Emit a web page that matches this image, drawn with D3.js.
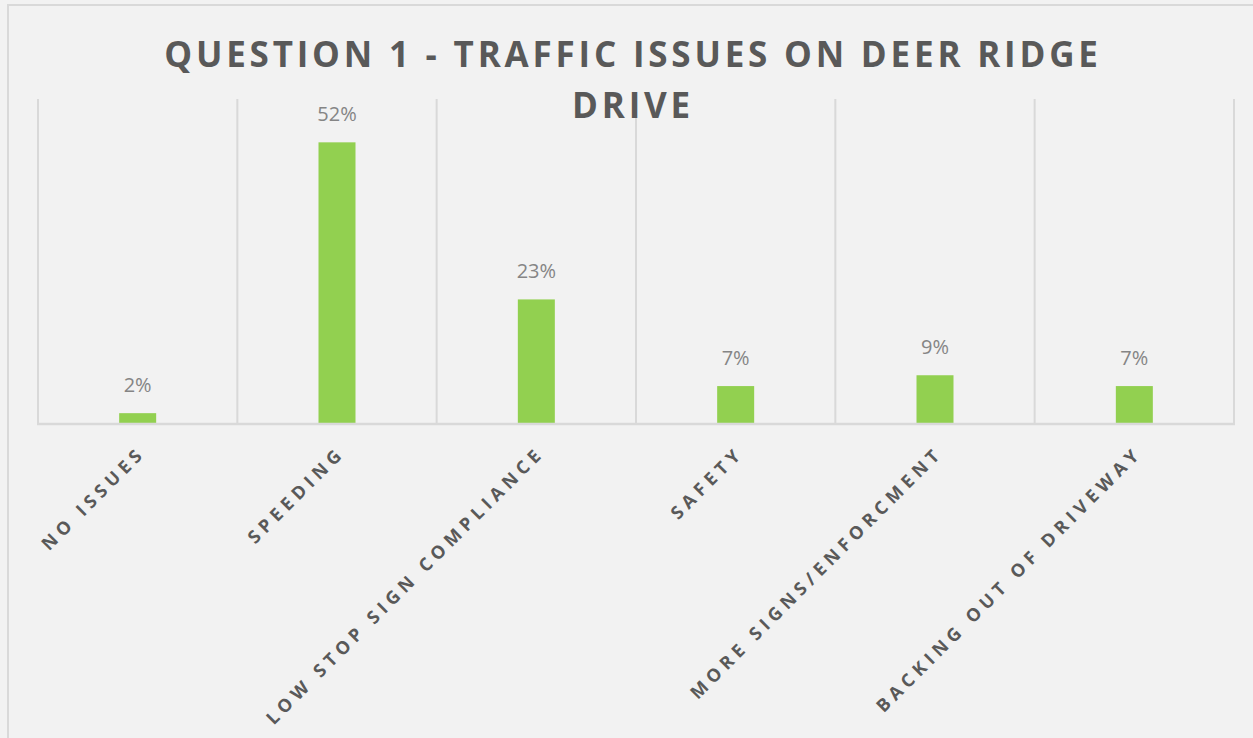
<!DOCTYPE html>
<html>
<head>
<meta charset="utf-8">
<script src="https://cdn.jsdelivr.net/npm/d3@7"></script>
<style>
  body { margin: 0; background: #f2f2f2; }
  svg { display: block; }
</style>
</head>
<body>
<div id="chart"></div>
<script>
/*------------------------------------------*/
/*            Data                          */
/*------------------------------------------*/

var categories = ["NO ISSUES", "SPEEDING", "LOW STOP SIGN COMPLIANCE", "SAFETY",
                  "MORE SIGNS/ENFORCMENT", "BACKING OUT OF DRIVEWAY"];
var values = [2, 52, 23, 7, 9, 7];
var valueLabels = ["2%", "52%", "23%", "7%", "9%", "7%"];
var titleLines = ["QUESTION 1 - TRAFFIC ISSUES ON DEER RIDGE", "DRIVE"];

/*------------------------------------------*/
/*            Constants                     */
/*------------------------------------------*/

var width = 1253,
    height = 738;

var plot = { left: 38, right: 1234, top: 99, bottom: 424 };

var barColour = "#92d050",
    gridColour = "#d9d9d9",
    textColour = "#595959";

var svg = d3.select("#chart").append("svg")
    .attr("width", width)
    .attr("height", height);

svg.append("rect")
    .attr("width", width)
    .attr("height", height)
    .attr("fill", "#f2f2f2");

// outer frame (top & left edge of the chart area)
svg.append("line")
    .attr("x1", 7).attr("x2", width).attr("y1", 5).attr("y2", 5)
    .attr("stroke", gridColour).attr("stroke-width", 2);
svg.append("line")
    .attr("x1", 8).attr("x2", 8).attr("y1", 5).attr("y2", height)
    .attr("stroke", gridColour).attr("stroke-width", 2);

/*------------------------------------------*/
/*            Scales                        */
/*------------------------------------------*/

var x = d3.scaleBand()
    .domain(categories)
    .range([plot.left, plot.right])
    .paddingInner(0)
    .paddingOuter(0);

var y = d3.scaleLinear()
    .domain([0, 60])
    .range([plot.bottom, plot.top]);

var barWidth = 37;

/*------------------------------------------*/
/*            Grid                          */
/*------------------------------------------*/

var boundaries = categories.map(function(c) { return x(c); }).concat([plot.right]);

svg.append("g").selectAll("line")
    .data(boundaries)
    .enter().append("line")
    .attr("x1", function(d) { return d; })
    .attr("x2", function(d) { return d; })
    .attr("y1", plot.top)
    .attr("y2", plot.bottom)
    .attr("stroke", gridColour)
    .attr("stroke-width", 2);

/*------------------------------------------*/
/*            Bars & labels                 */
/*------------------------------------------*/

var data = categories.map(function(c, i) {
  return { cat: c, val: values[i], label: valueLabels[i] };
});

svg.append("g").selectAll("rect")
    .data(data)
    .enter().append("rect")
    .attr("x", function(d) { return x(d.cat) + x.bandwidth() / 2 - barWidth / 2; })
    .attr("y", function(d) { return y(d.val); })
    .attr("width", barWidth)
    .attr("height", function(d) { return y(0) - y(d.val); })
    .attr("fill", barColour);

svg.append("g").selectAll("text")
    .data(data)
    .enter().append("text")
    .attr("x", function(d) { return x(d.cat) + x.bandwidth() / 2; })
    .attr("y", function(d) { return y(d.val) - 21; })
    .attr("text-anchor", "middle")
    .attr("font-family", "Open Sans, sans-serif")
    .attr("font-size", "20px")
    .attr("fill", "#858585")
    .text(function(d) { return d.label; });

// x axis line
svg.append("line")
    .attr("x1", plot.left - 1).attr("x2", plot.right + 1)
    .attr("y1", plot.bottom).attr("y2", plot.bottom)
    .attr("stroke", gridColour)
    .attr("stroke-width", 2.5);

/*------------------------------------------*/
/*            Category labels               */
/*------------------------------------------*/

svg.append("g").selectAll("text")
    .data(categories)
    .enter().append("text")
    .attr("transform", function(d) {
      return "translate(" + (x(d) + x.bandwidth() / 2 + 9) + "," + 454 + ") rotate(-45)";
    })
    .attr("text-anchor", "end")
    .attr("font-family", "Open Sans, sans-serif")
    .attr("font-weight", "bold")
    .attr("font-size", "18px")
    .attr("letter-spacing", "5px")
    .attr("fill", textColour)
    .text(function(d) { return d; });

/*------------------------------------------*/
/*            Title                         */
/*------------------------------------------*/

svg.append("g").selectAll("text")
    .data(titleLines)
    .enter().append("text")
    .attr("x", 633)
    .attr("y", function(d, i) { return 67 + i * 51; })
    .attr("text-anchor", "middle")
    .attr("font-family", "Open Sans, sans-serif")
    .attr("font-weight", "bold")
    .attr("font-size", "35px")
    .attr("letter-spacing", "3.8px")
    .attr("fill", textColour)
    .text(function(d) { return d; });
</script>
</body>
</html>
